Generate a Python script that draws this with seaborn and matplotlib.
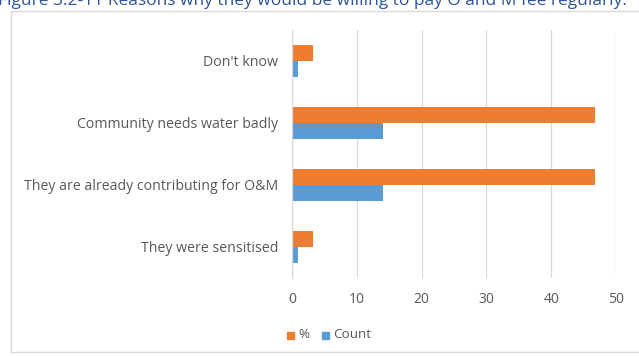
import pandas as pd
import seaborn as sns
import matplotlib.pyplot as plt
from matplotlib.patches import Rectangle

# data
reasons = ["Don't know", "Community needs water badly",
           "They are already contributing for O&M", "They were sensitised"]
pct = [3.3, 46.7, 46.7, 3.3]
count = [1, 14, 14, 1]
series = ["%", "Count"]
colors = ["#ED7D31", "#5B9BD5"]

df = pd.DataFrame({
    "reason": reasons * 2,
    "value": pct + count,
    "series": ["%"] * len(reasons) + ["Count"] * len(reasons),
})

sns.set_theme(style="white")
plt.rcParams['font.family'] = ['Open Sans', 'DejaVu Sans']

fig = plt.figure(figsize=(6.39, 3.56), dpi=100)
ax = fig.add_axes([292 / 639, 1 - 278 / 356, (616 - 292) / 639, (278 - 30) / 356])

sns.barplot(data=df, y="reason", x="value", hue="series", hue_order=series,
            order=reasons, palette=colors, orient="h", width=0.52,
            saturation=1, linewidth=0, ax=ax, legend=False)

ax.set_xlim(0, 50)
ax.set_xticks(range(0, 51, 10))
ax.set_xlabel("")
ax.set_ylabel("")
ax.grid(axis="x", color="#D9D9D9", linewidth=0.9)
ax.set_axisbelow(True)
for s in ["top", "right", "bottom"]:
    ax.spines[s].set_visible(False)
ax.spines["left"].set_color("#D9D9D9")
ax.spines["left"].set_linewidth(0.9)
ax.tick_params(axis="both", length=0, colors="#595959")
ax.tick_params(axis="x", pad=10, labelsize=10)
ax.tick_params(axis="y", pad=10, labelsize=10.2)

# chart border
fig.patches.append(Rectangle((11 / 639, 4 / 356), 1.0, 341 / 356, transform=fig.transFigure,
                             fill=False, edgecolor="#D9D9D9", linewidth=1))

# title (cut off at the top in the original)
fig.text(-0.003, 1 - 1 / 356, "Figure 3.2-11 Reasons why they would be willing to pay O and M fee regularly.",
         color="#2F5597", fontsize=12.5, ha="left", va="center")

# legend
for i, (lab, c) in enumerate(zip(series, colors)):
    x0 = [287, 322][i] / 639
    fig.patches.append(Rectangle((x0, 1 - 339 / 356), 7 / 639, 7 / 356,
                                 transform=fig.transFigure, color=c))
    fig.text(x0 + 11 / 639, 1 - 335 / 356, lab, color="#595959", fontsize=9.7, va="center")

fig.savefig("out.png", dpi=100)
